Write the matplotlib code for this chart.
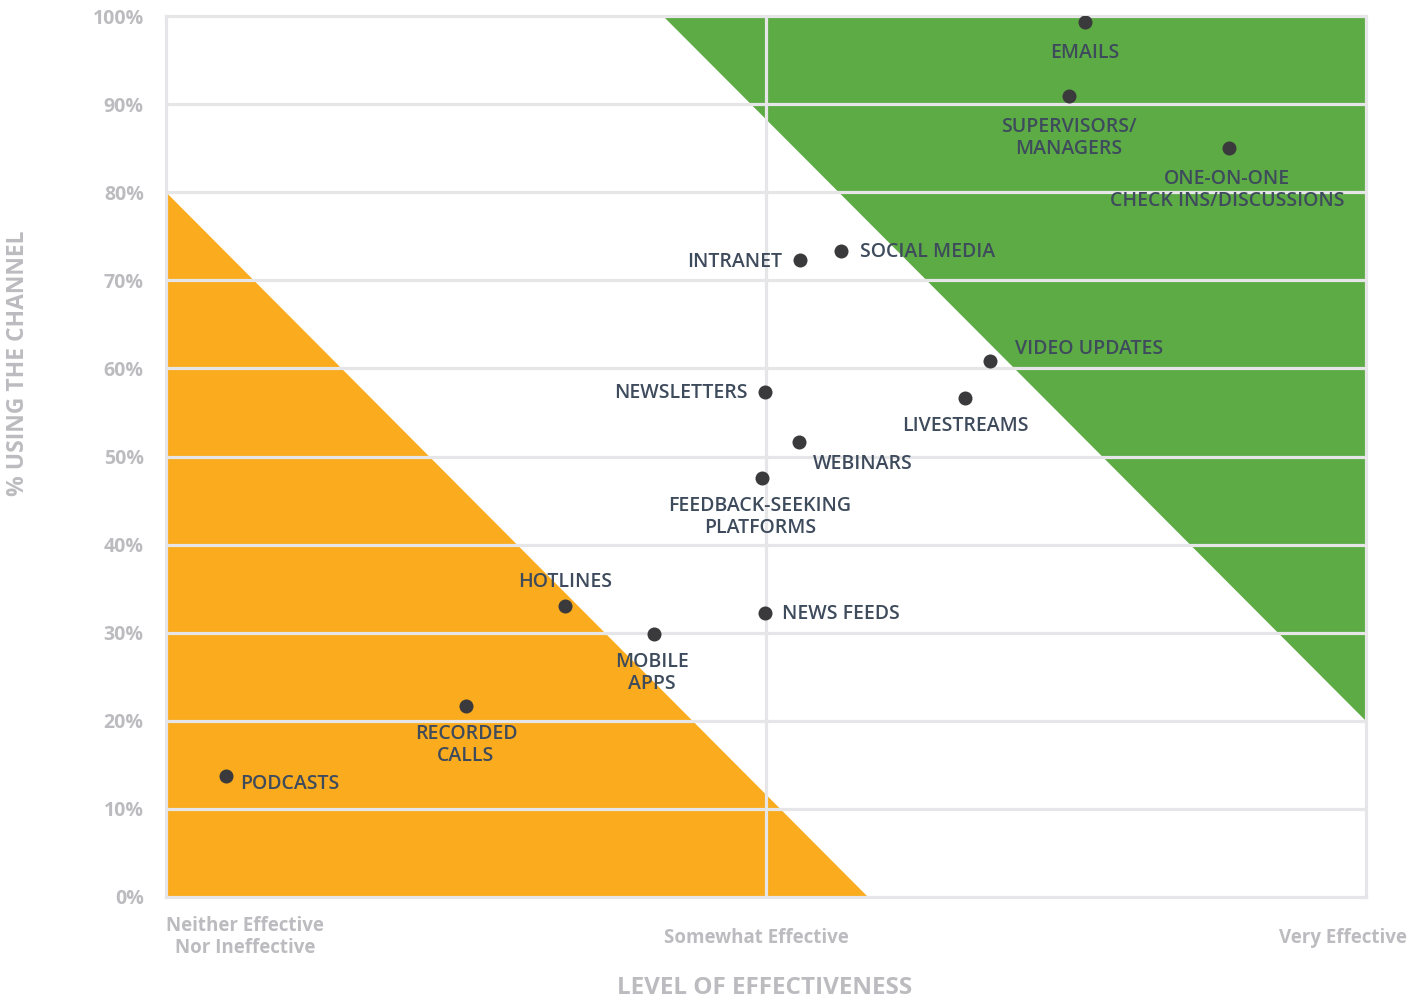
import matplotlib
matplotlib.use("Agg")
import matplotlib.pyplot as plt

channels = ["EMAILS", "SUPERVISORS/\nMANAGERS", "ONE-ON-ONE\nCHECK INS/DISCUSSIONS", "SOCIAL MEDIA",
            "INTRANET", "VIDEO UPDATES", "LIVESTREAMS", "NEWSLETTERS", "WEBINARS",
            "FEEDBACK-SEEKING\nPLATFORMS", "HOTLINES", "NEWS FEEDS", "MOBILE\nAPPS",
            "RECORDED\nCALLS", "PODCASTS"]
effectiveness = [0.766, 0.7525, 0.886, 0.5625, 0.528, 0.687, 0.666, 0.499, 0.5275,
                 0.4967, 0.3325, 0.499, 0.4067, 0.25, 0.05]
pct_using = [99.3, 90.9, 85.0, 73.3, 72.3, 60.8, 56.6, 57.3, 51.6,
             47.6, 33.0, 32.2, 29.9, 21.7, 13.7]

level_labels = ["Neither Effective\nNor Ineffective", "Somewhat Effective", "Very Effective"]
y_ticks = list(range(0, 101, 10))

# label placement relative to the dot (pixels), and alignment
label_style = [
    ((0, -31), "center"), ((0, -42), "center"), ((-2, -42), "center"), ((19, -1), "left"),
    ((-17, -2), "right"), ((25, 12), "left"), ((0, -28), "center"), ((-17, -1), "right"),
    ((14, -22), "left"), ((-2, -39), "center"), ((0, 24), "center"), ((17, -1), "left"),
    ((-2, -39), "center"), ((0, -39), "center"), ((14, -8), "left"),
]

green = "#5dab44"
orange = "#faab1e"
grid = "#e6e6e8"
tickgray = "#bcbcc0"
labelcol = "#3e4b5c"

plt.rcParams["font.family"] = ["Open Sans", "DejaVu Sans"]
fig = plt.figure(figsize=(14.21, 9.98), dpi=100)
ax = fig.add_axes([166 / 1421, 1 - 897 / 998, 1200 / 1421, 881 / 998])

ax.fill([0, 0, 0.585], [0, 80, 0], color=orange, lw=0, zorder=1)
ax.fill([0.414, 1, 1], [100, 100, 20], color=green, lw=0, zorder=1)

for y in y_ticks[1:-1]:
    ax.axhline(y, color=grid, lw=2.3, zorder=2)
ax.axvline(0.5, color=grid, lw=2.3, zorder=2)

ax.set_xlim(0, 1)
ax.set_ylim(0, 100)
for s in ax.spines.values():
    s.set_color(grid)
    s.set_linewidth(2.3)
    s.set_zorder(3)

ax.set_xticks([])
ax.set_yticks(y_ticks)
ax.set_yticklabels([f"{v}%" for v in y_ticks], color=tickgray, fontsize=14, fontweight="bold")
ax.tick_params(axis="y", length=0, pad=16)

ax.scatter(effectiveness, pct_using, s=14 ** 2 * 0.52, color="#3a3a3c", zorder=5, linewidths=0)

for name, x, y, (off, ha) in zip(channels, effectiveness, pct_using, label_style):
    ax.annotate(name, (x, y), xytext=off, textcoords="offset pixels", ha=ha, va="center",
                fontsize=14, color=labelcol, fontweight="semibold", linespacing=1.13, zorder=6)

ax.text(0.066, -2.2, level_labels[0], ha="center", va="top",
        fontsize=13.5, color=tickgray, fontweight="bold", linespacing=1.1)
ax.text(0.492, -3.5, level_labels[1], ha="center", va="top", fontsize=13.5,
        color=tickgray, fontweight="bold")
ax.text(1.034, -3.5, level_labels[2], ha="right", va="top", fontsize=13.5,
        color=tickgray, fontweight="bold")

fig.text(765 / 1421, 1 - 988 / 998, "LEVEL OF EFFECTIVENESS", ha="center", va="center",
         fontsize=17.5, color=tickgray, fontweight="bold")
fig.text(18 / 1421, 1 - 363 / 998, "% USING THE CHANNEL", ha="center", va="center",
         rotation=90, fontsize=16.5, color=tickgray, fontweight="bold")

fig.savefig("out.png", dpi=100)
